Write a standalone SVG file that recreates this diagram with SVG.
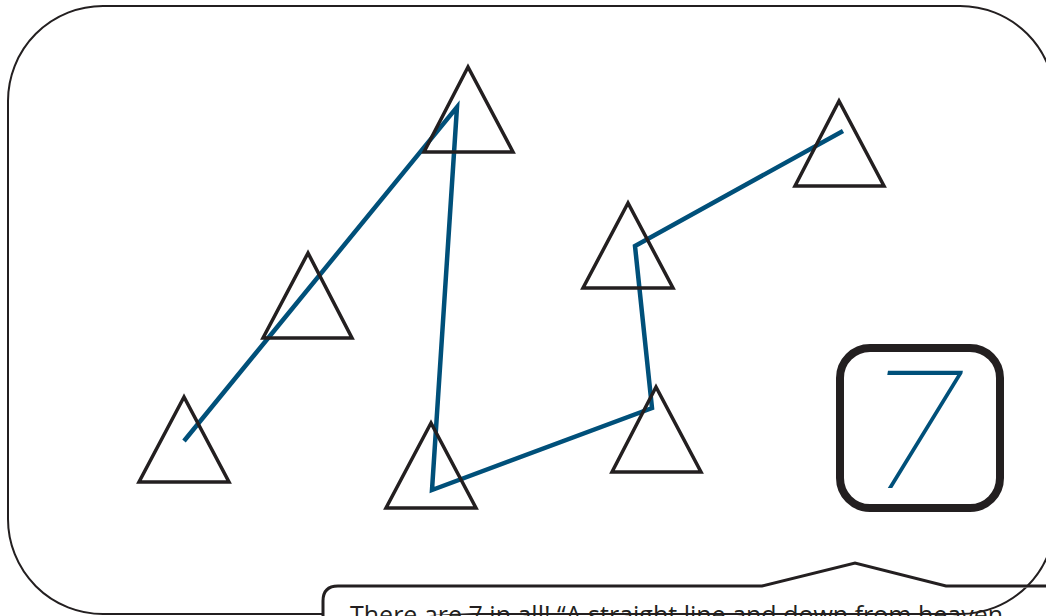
<svg xmlns="http://www.w3.org/2000/svg" width="1046" height="616" viewBox="0 0 1046 616">
<style>
.tri{fill:none;stroke:#231f20;stroke-width:3.5;stroke-linejoin:miter}
.link{fill:none;stroke:#00507a;stroke-width:4.5;stroke-linejoin:miter}
</style>
<rect width="1046" height="616" fill="#ffffff"/>
<g id="frame">
<rect x="8" y="6" width="1047" height="608" rx="95" ry="95" fill="#ffffff" stroke="#231f20" stroke-width="2"/>
</g>
<g id="connectors">
<polyline class="link" points="184,441 457,107 432,490 652,408 635,246 843,131"/>
</g>
<g id="tri1"><polygon class="tri" points="468,67 424,152 513,152"/></g>
<g id="tri2"><polygon class="tri" points="839,101 795,186 884,186"/></g>
<g id="tri3"><polygon class="tri" points="308,253 263,338 352,338"/></g>
<g id="tri4"><polygon class="tri" points="628,203 583,288 673,288"/></g>
<g id="tri5"><polygon class="tri" points="184,397 139,482 229,482"/></g>
<g id="tri6"><polygon class="tri" points="431,423 386,508 476,508"/></g>
<g id="tri7"><polygon class="tri" points="656,387 612,472 701,472"/></g>
<g id="count">
<rect x="840" y="348" width="160" height="160" rx="30" ry="30" fill="#ffffff" stroke="#231f20" stroke-width="8"/>
<text transform="translate(908,488) skewX(-9.2)" x="0" y="0" text-anchor="middle" font-family="Roboto, 'Open Sans', sans-serif" font-weight="100" font-size="165" fill="#00507a">7</text>
</g>
<g id="callout">
<path d="M323,620 L323,601 Q323,586 338,586 L762,586 L855,563 L946,586 L1060,586" fill="#ffffff" stroke="#231f20" stroke-width="3"/>
<text x="350" y="623.5" font-family="'Open Sans', 'Noto Sans', sans-serif" font-size="25" fill="#231f20">There are 7 in all! “A straight line and down from heaven</text>
</g>
</svg>
